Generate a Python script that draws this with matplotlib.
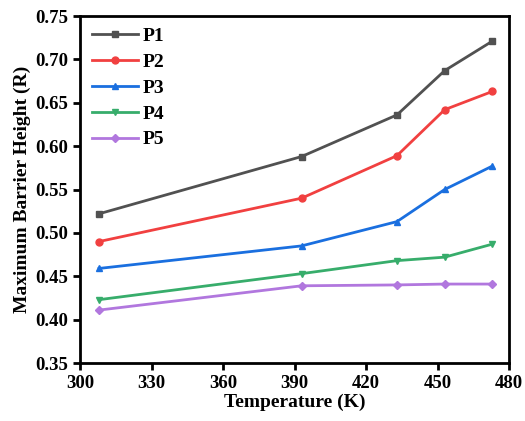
import numpy as np
import matplotlib
matplotlib.use('Agg')
import matplotlib.pyplot as plt

plt.rcParams['font.family'] = 'Liberation Serif'
plt.rcParams['font.weight'] = 'bold'

temperature = [308, 393, 433, 453, 473]
p1 = [0.522, 0.588, 0.636, 0.687, 0.721]
p2 = [0.490, 0.540, 0.589, 0.642, 0.663]
p3 = [0.459, 0.485, 0.513, 0.550, 0.577]
p4 = [0.423, 0.453, 0.468, 0.472, 0.487]
p5 = [0.411, 0.439, 0.440, 0.441, 0.441]
labels = ['P1', 'P2', 'P3', 'P4', 'P5']

series = [p1, p2, p3, p4, p5]
colors = ['#515151', '#F14040', '#1A6FDF', '#37AD6B', '#B177DE']
markers = ['s', 'o', '^', 'v', 'D']

fig = plt.figure(figsize=(5.25, 4.21), dpi=100)
ax = fig.add_axes([80/525, 1 - 363/421, 429/525, 347/421])

for y, lab, c, m in zip(series, labels, colors, markers):
    ax.plot(temperature, y, color=c, marker=m, markersize=5 if m != 'D' else 4.5,
            linewidth=2, label=lab)

ax.set_xlim(300, 480)
ax.set_ylim(0.35, 0.75)
ax.set_xticks(np.arange(300, 481, 30))
ax.set_yticks(np.arange(0.35, 0.751, 0.05))
ax.yaxis.set_major_formatter(matplotlib.ticker.FormatStrFormatter('%.2f'))
ax.tick_params(axis='both', direction='out', width=2, length=5, labelsize=13.5)
for s in ax.spines.values():
    s.set_linewidth(2)

ax.set_xlabel('Temperature (K)', fontsize=14, fontweight='bold', labelpad=1)
ax.set_ylabel('Maximum Barrier Height (R)', fontsize=14, fontweight='bold', labelpad=3)

ax.legend(loc='upper left', frameon=False, fontsize=14, handlelength=2.4,
          labelspacing=0.42, borderaxespad=0.2, handletextpad=0.2)

fig.savefig('out.png', dpi=100)
